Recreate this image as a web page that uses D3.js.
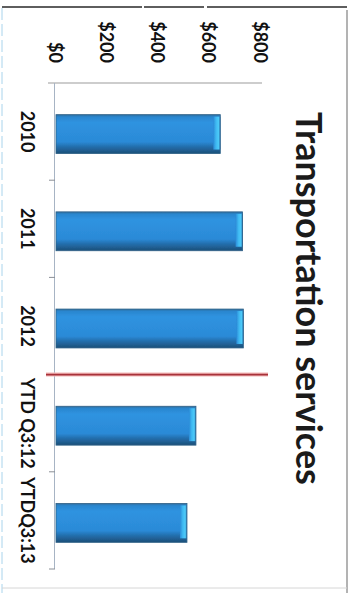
<!DOCTYPE html>
<html>
<head>
<meta charset="utf-8">
<script src="https://cdn.jsdelivr.net/npm/d3@7"></script>
<style>
  html, body { margin: 0; padding: 0; background: #fff; }
  svg { display: block; }
</style>
</head>
<body>
<svg id="chart" width="356" height="593"></svg>
<script>
// Transportation services spending by period (USD)
const categories = ["2010", "2011", "2012", "YTD Q3:12", "YTDQ3:13"];
const values = [645, 732, 735, 550, 515];
const tickValues = [0, 200, 400, 600, 800];
const tickLabels = ["$0", "$200", "$400", "$600", "$800"];
const titleText = "Transportation services";
// divider drawn between full years and year-to-date periods
const dividerAfter = "2012";

const svg = d3.select("#chart");

// chart is laid out turned a quarter turn: values run left→right, categories top→bottom
const x = d3.scaleLinear().domain([0, 800]).range([55, 260]);
const y = d3.scaleBand().domain(categories).range([83, 569]).paddingInner(0.6).paddingOuter(0.3);
const yFull = d3.scaleBand().domain(categories).range([83, 569]);

const defs = svg.append("defs");
const g1 = defs.append("linearGradient").attr("id", "barBody").attr("x1", 0).attr("x2", 0).attr("y1", 0).attr("y2", 1);
[["0%", "#2f6f9f"], ["6%", "#2a86cf"], ["20%", "#2f93e0"], ["70%", "#2b8ad7"], ["82%", "#236fae"], ["100%", "#1d4f78"]]
  .forEach(([o, c]) => g1.append("stop").attr("offset", o).attr("stop-color", c));
const g2 = defs.append("linearGradient").attr("id", "barCap").attr("x1", 0).attr("x2", 1).attr("y1", 0).attr("y2", 0);
[["0%", "#2b8ad7"], ["40%", "#3fb9f2"], ["75%", "#4ccaf8"], ["100%", "#2a76b4"]]
  .forEach(([o, c]) => g2.append("stop").attr("offset", o).attr("stop-color", c));
const blur = defs.append("filter").attr("id", "soft").attr("x", "-10%").attr("y", "-50%").attr("width", "120%").attr("height", "200%");
blur.append("feGaussianBlur").attr("stdDeviation", 0.6);

const font = "'Liberation Sans Narrow', 'Arial Narrow', Lato, sans-serif";

// frame
const frame = svg.append("g").attr("fill", "none");
frame.append("line").attr("x1", 2).attr("x2", 348).attr("y1", 7).attr("y2", 7).attr("stroke", "#2a2a2a").attr("stroke-width", 1.6).attr("stroke-dasharray", "140,2,60,3,140");
frame.append("line").attr("x1", 347).attr("x2", 347).attr("y1", 10).attr("y2", 593).attr("stroke", "#9a9a9a").attr("stroke-width", 1.5);
frame.append("line").attr("x1", 2).attr("x2", 2).attr("y1", 8).attr("y2", 593).attr("stroke", "#a9d4ec").attr("stroke-width", 1).attr("stroke-dasharray", "12,4");
frame.append("line").attr("x1", 2).attr("x2", 347).attr("y1", 588).attr("y2", 588).attr("stroke", "#d6d6d6").attr("stroke-width", 1);

// value axis line
svg.append("line").attr("x1", 48).attr("x2", 262).attr("y1", 83).attr("y2", 83)
  .attr("stroke", "#9b9b9b").attr("stroke-width", 1.2);

// value tick labels
svg.append("g").selectAll("text").data(tickValues).join("text")
  .attr("transform", d => `translate(${x(d)},63) rotate(90)`)
  .attr("text-anchor", "end").attr("dy", "0.35em")
  .attr("font-family", font).attr("font-weight", 700)
  .attr("font-size", 18).attr("fill", "#111")
  .text((d, i) => tickLabels[i]);

// category axis line with boundary ticks
svg.append("line").attr("x1", 54.5).attr("x2", 54.5).attr("y1", 83).attr("y2", 569)
  .attr("stroke", "#a7b4c4").attr("stroke-width", 1);
const bounds = categories.map(c => yFull(c)).concat([yFull.range()[1]]).slice(1);
svg.append("g").selectAll("line").data(bounds).join("line")
  .attr("x1", 49).attr("x2", 55).attr("y1", d => d).attr("y2", d => d)
  .attr("stroke", "#8a8f96").attr("stroke-width", 1);

// category labels
svg.append("g").selectAll("text").data(categories).join("text")
  .attr("transform", d => `translate(27,${yFull(d) + yFull.bandwidth() / 2}) rotate(90)`)
  .attr("text-anchor", "middle").attr("dy", "0.35em")
  .attr("font-family", font).attr("font-weight", 700)
  .attr("font-size", 18).attr("fill", "#111")
  .text(d => d);

// bars
const off = 2.5;
const bars = svg.append("g").attr("filter", "url(#soft)");
categories.forEach((c, i) => {
  const y0 = y(c) + off, h = y.bandwidth(), x0 = x(0) + 1, x1 = x(values[i]);
  bars.append("rect").attr("x", x0).attr("y", y0).attr("width", x1 - x0).attr("height", h)
    .attr("fill", "url(#barBody)");
  bars.append("rect").attr("x", x1 - 7).attr("y", y0 + 2).attr("width", 7).attr("height", h - 6)
    .attr("fill", "url(#barCap)");
  bars.append("rect").attr("x", x0).attr("y", y0).attr("width", x1 - x0).attr("height", h)
    .attr("fill", "none").attr("stroke", "#2c5f86").attr("stroke-width", 0.8);
});

// divider between full years and YTD periods
const yDiv = yFull(dividerAfter) + yFull.bandwidth();
svg.append("line").attr("x1", 46).attr("x2", 268).attr("y1", yDiv).attr("y2", yDiv)
  .attr("stroke", "#f3b8b8").attr("stroke-width", 4);
svg.append("line").attr("x1", 46).attr("x2", 268).attr("y1", yDiv).attr("y2", yDiv)
  .attr("stroke", "#a8323a").attr("stroke-width", 1.6);

// title
const title = svg.append("text")
  .attr("transform", `translate(296,${(112 + 485) / 2}) rotate(90)`)
  .attr("text-anchor", "middle")
  .attr("font-family", font).attr("font-weight", 700)
  .attr("font-size", 36).attr("fill", "#1a1a1a")
  .text(titleText);
const len = title.node().getComputedTextLength();
if (len > 0) title.attr("font-size", Math.min(40, 36 * 373 / len));
</script>
</body>
</html>
